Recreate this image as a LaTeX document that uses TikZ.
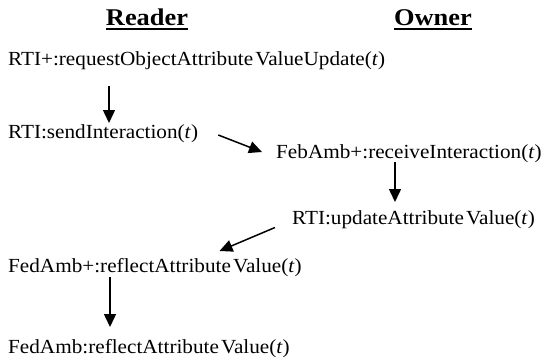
\documentclass[tikz,border=0pt]{standalone}
\usepackage{fontspec}
\setmainfont{Liberation Serif}
\usetikzlibrary{arrows.meta}
\newcommand{\hx}[1]{\scalebox{1.06}[1]{#1}}
\newcommand{\AV}{Attribute\kern2pt Value}
\tikzset{
  lbl/.style={inner sep=0pt, anchor=base west, font=\fontsize{20}{24}\selectfont},
  hdr/.style={inner sep=0pt, anchor=base, font=\fontsize{24}{28}\selectfont\bfseries},
  arr/.style={line width=1.5pt, -{Triangle[length=13pt,width=12pt]}},
  ul/.style={line width=2.5pt}
}
\begin{document}
\begin{tikzpicture}[x=1pt,y=-1pt]
\useasboundingbox (0,0) rectangle (544,360);
\node[hdr] (rd) at (147,25) {\scalebox{1.1}[1]{Reader}};
\node[hdr] (ow) at (433,25) {\scalebox{1.1}[1]{Owner}};
\draw[ul] ([yshift=-4pt]rd.base west) -- ([yshift=-4pt]rd.base east);
\draw[ul] ([yshift=-4pt]ow.base west) -- ([yshift=-4pt]ow.base east);
\node[lbl] (l1) at (8,65) {\hx{RTI+:requestObject\AV Update(\textit{t})}};
\node[lbl] (l2) at (8,138) {\hx{RTI:sendInteraction(\textit{t})}};
\node[lbl] (l3) at (276,158.5) {\hx{FebAmb+:receiveInteraction(\textit{t})}};
\node[lbl] (l4) at (292,224) {\hx{RTI:update\AV(\textit{t})}};
\node[lbl] (l5) at (8,272) {\hx{FedAmb+:reflect\AV(\textit{t})}};
\node[lbl] (l6) at (8,353) {\hx{FedAmb:reflect\AV(\textit{t})}};
\draw[arr] ([xshift=101pt,yshift=-21pt]l1.base west) -- ([xshift=101pt,yshift=15pt]l2.base west);
\draw[arr] ([xshift=20pt,yshift=3pt]l2.base east) -- ([xshift=-14pt,yshift=6.5pt]l3.base west);
\draw[arr] ([xshift=119pt,yshift=-3.5pt]l3.base west) -- ([xshift=103pt,yshift=22pt]l4.base west);
\draw[arr] ([xshift=-17pt,yshift=-3.5pt]l4.base west) -- ([xshift=211.5pt,yshift=21pt]l5.base west);
\draw[arr] ([xshift=102pt,yshift=-5pt]l5.base west) -- ([xshift=102pt,yshift=26pt]l6.base west);
\end{tikzpicture}
\end{document}
